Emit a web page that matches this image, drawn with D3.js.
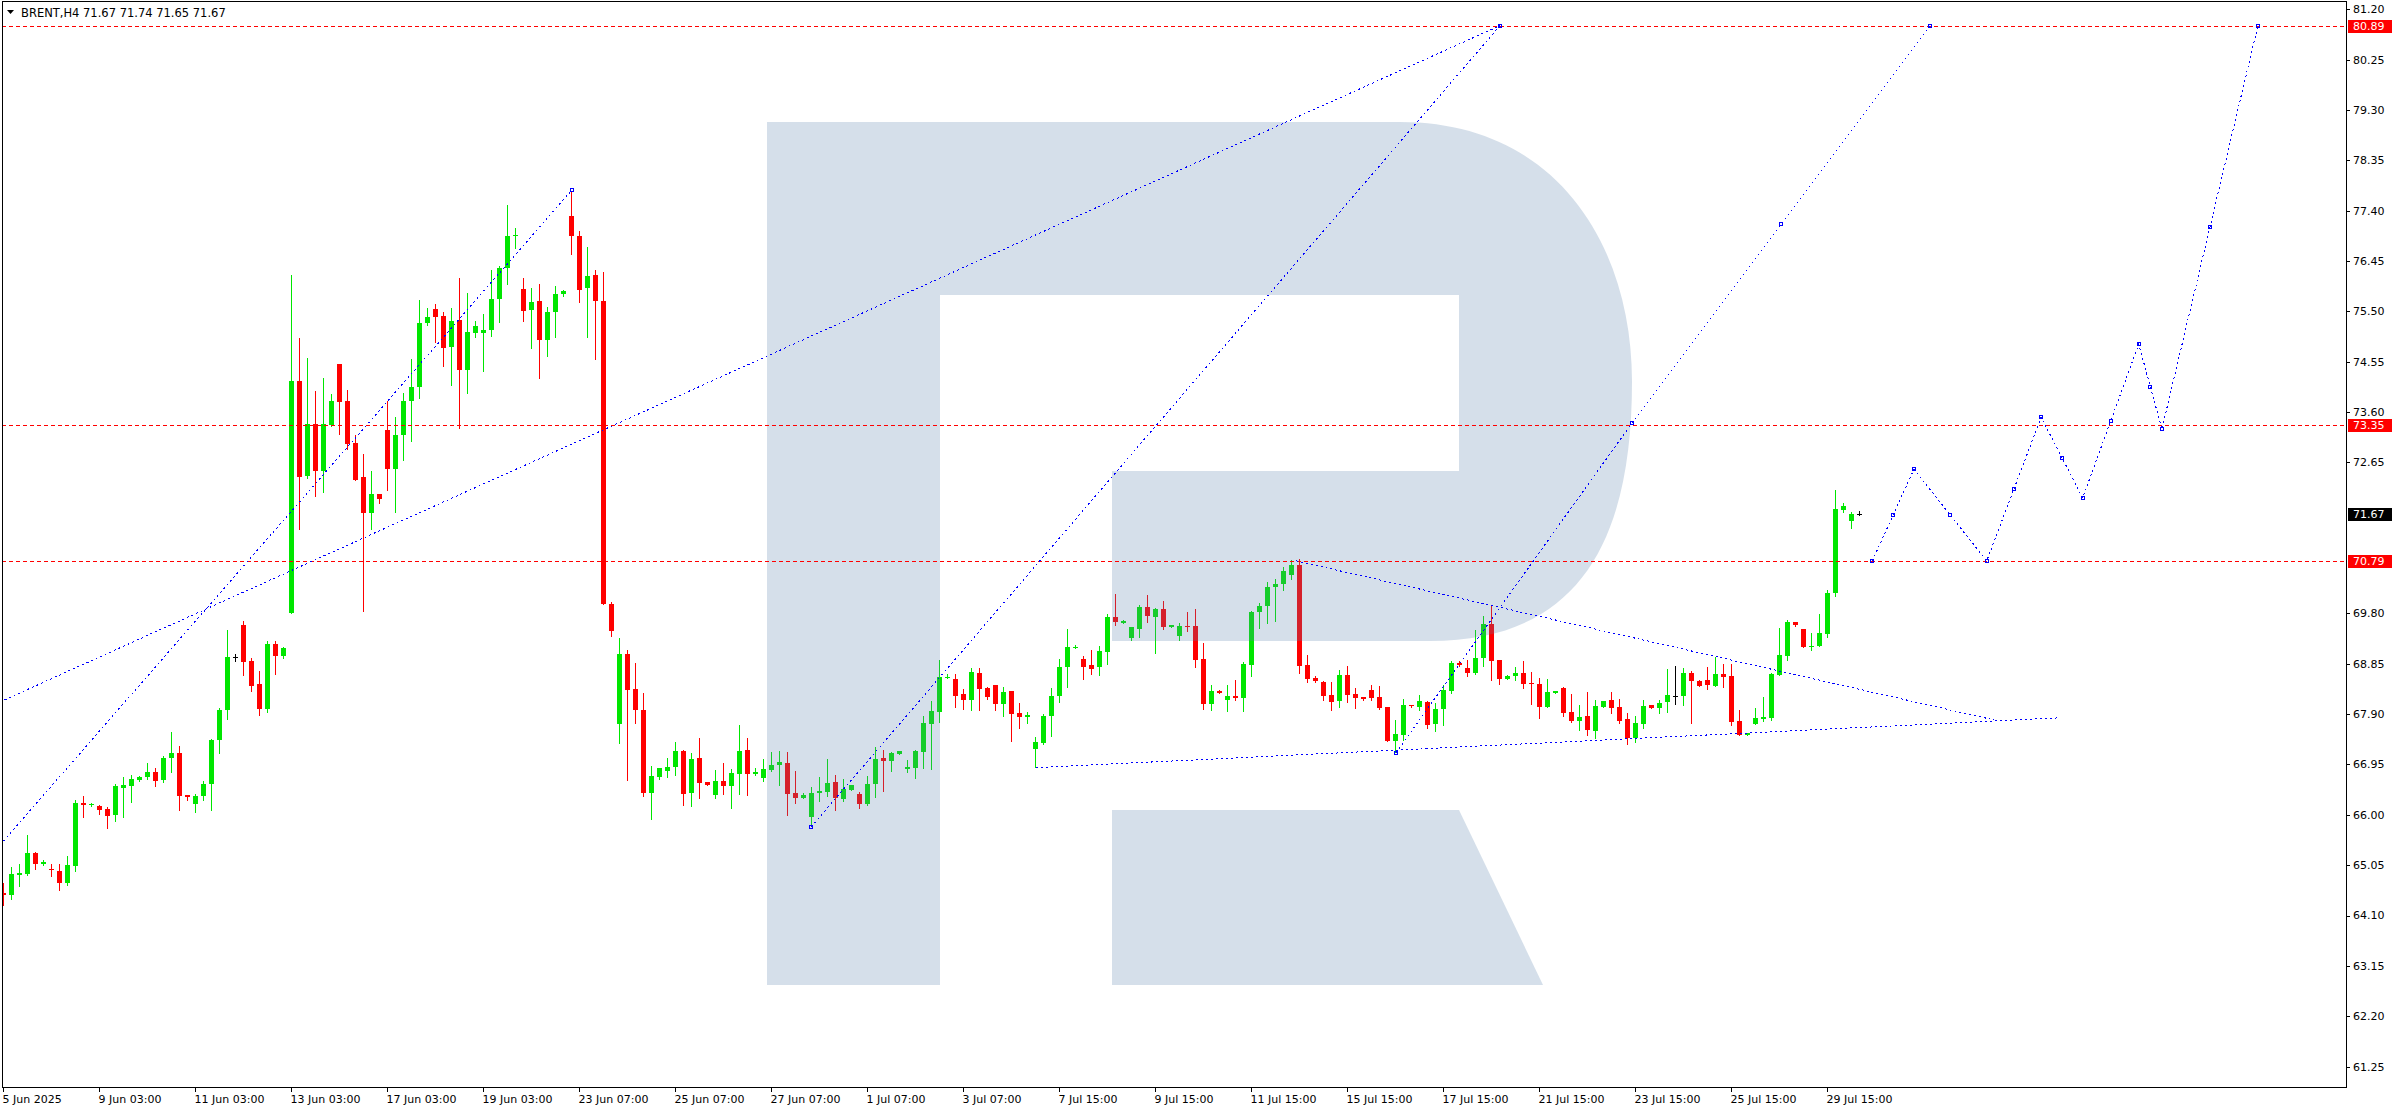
<!DOCTYPE html>
<html><head><meta charset="utf-8">
<script src="https://cdn.jsdelivr.net/npm/d3@7/dist/d3.min.js"></script>
<style>
body{margin:0;background:#fff}
svg{display:block}
text{font-family:"DejaVu Sans",sans-serif;font-size:11px}
</style>
</head><body>
<svg id="chart" width="2396" height="1110"></svg>
<script>
// ---- data (BRENT H4) ----
const symbol = "BRENT,H4";
const lastOHLC = [71.67, 71.74, 71.65, 71.67];
const opens = [64.52,64.48,64.86,64.89,65.27,65.08,64.98,64.94,64.72,65.04,66.23,66.19,66.17,66.11,66.00,66.51,66.55,66.66,66.71,66.80,66.66,67.07,67.17,66.37,66.21,66.36,66.59,67.42,67.97,68.97,69.58,68.91,68.46,67.99,69.22,68.99,69.81,74.18,72.39,73.38,72.49,73.35,74.51,73.81,73.02,72.37,71.70,72.05,73.26,72.53,73.17,73.80,74.07,75.27,75.54,75.41,74.82,75.34,74.39,75.10,75.10,75.14,75.74,76.32,76.92,75.92,75.52,75.70,74.96,75.48,75.82,77.30,76.93,75.94,76.19,75.70,69.98,67.71,69.04,68.37,67.98,66.42,66.72,66.83,66.90,67.20,66.41,67.07,66.62,66.37,66.64,66.54,66.77,67.22,66.77,66.69,66.85,66.94,66.98,66.41,66.32,65.96,66.41,66.43,66.62,66.30,66.47,66.39,66.20,66.58,67.07,67.01,67.15,66.86,66.88,67.18,67.71,67.94,68.59,68.56,68.28,68.17,68.68,68.39,68.45,68.10,68.34,67.93,67.85,67.25,67.36,67.87,68.25,68.78,69.15,68.94,68.83,68.78,69.08,69.73,69.61,69.34,69.51,69.92,69.74,69.88,69.55,69.38,69.56,69.56,68.94,68.10,68.34,68.17,68.25,68.21,68.83,69.83,69.94,70.30,70.35,70.52,70.72,68.83,68.59,68.50,68.26,68.15,68.64,68.28,68.22,68.35,68.22,68.03,67.39,67.51,68.07,68.03,68.13,67.71,67.99,68.34,68.86,68.77,68.68,68.96,69.60,68.92,68.56,68.61,68.68,68.48,68.47,68.03,68.30,68.39,67.94,67.77,67.86,67.58,68.03,68.17,68.03,67.81,67.44,67.71,68.07,68.01,68.13,68.25,68.24,68.68,68.53,68.54,68.43,68.66,68.62,67.77,67.51,67.71,67.81,67.83,68.64,68.99,69.64,69.50,69.17,69.19,69.42,70.18,71.75,71.54,71.67];
const highs = [64.71,65.02,65.08,65.62,65.29,65.15,65.07,65.07,65.22,66.27,66.36,66.23,66.19,66.14,66.59,66.71,66.76,66.74,66.98,66.89,67.11,67.57,67.30,66.37,66.39,66.64,67.43,68.01,69.48,69.03,69.66,68.95,68.72,69.27,69.27,69.17,76.18,75.00,74.62,74.00,74.24,73.94,74.51,74.02,73.17,72.80,72.49,72.06,73.80,73.51,73.96,74.60,75.72,75.57,75.63,75.49,75.57,76.12,75.85,75.32,75.45,76.28,76.36,77.50,77.07,76.12,75.94,76.01,75.58,75.98,75.90,77.76,77.01,76.71,76.27,76.24,70.01,69.34,69.11,68.86,68.30,66.92,66.88,67.07,67.37,67.22,67.17,67.45,66.62,66.85,66.97,66.86,67.69,67.45,66.88,67.05,67.19,67.20,67.18,66.83,66.41,66.52,66.71,67.05,66.75,66.68,66.56,66.43,66.73,67.28,67.22,67.19,67.21,67.03,67.22,67.86,68.15,68.92,68.66,68.66,68.37,68.77,68.77,68.41,68.45,68.41,68.34,68.11,67.94,67.47,67.91,68.39,68.94,69.50,69.20,69.00,69.11,69.18,69.79,70.17,69.68,69.55,69.96,70.15,69.90,70.03,69.58,69.62,69.83,69.88,69.24,68.44,68.35,68.45,68.54,68.88,69.85,69.99,70.40,70.45,70.68,70.80,70.82,69.01,68.61,68.52,68.50,68.73,68.81,68.39,68.23,68.45,68.43,68.03,67.79,68.18,68.08,68.26,68.15,68.11,68.45,68.90,68.90,68.92,69.49,69.75,69.95,68.92,68.64,68.79,68.90,68.69,68.58,68.56,68.33,68.41,68.28,68.07,68.32,68.17,68.15,68.32,68.18,67.92,67.86,68.17,68.07,68.17,68.75,68.81,68.77,68.71,68.54,68.79,68.98,68.85,68.85,67.98,67.55,68.02,68.22,68.67,69.52,69.67,69.64,69.50,69.43,69.78,70.24,72.13,71.88,71.71,71.74];
const lows = [64.29,64.41,64.66,64.86,64.98,65.06,64.84,64.59,64.68,64.94,65.95,66.17,66.02,65.76,65.88,65.96,66.25,66.64,66.67,66.55,66.61,66.81,66.09,66.28,66.06,66.27,66.09,67.17,67.80,68.91,68.64,68.33,67.88,67.94,68.66,68.96,69.80,71.40,72.36,72.02,72.10,73.33,73.18,72.90,72.31,69.85,71.40,71.89,72.12,71.71,72.69,73.05,73.86,75.24,74.93,74.47,74.11,73.30,73.95,75.02,74.37,75.03,75.29,76.02,76.69,75.31,74.80,74.24,74.66,75.01,75.79,76.59,75.67,75.01,74.60,69.97,69.37,67.36,66.66,67.74,66.36,65.93,66.68,66.72,66.75,66.18,66.17,66.32,66.57,66.31,66.39,66.13,66.39,66.37,66.75,66.64,66.83,66.56,65.99,66.22,66.32,65.78,66.26,66.36,66.09,66.26,66.47,66.13,66.18,66.34,66.45,66.83,67.15,66.81,66.69,66.88,66.87,67.75,68.58,68.04,68.00,67.98,67.98,68.19,67.98,67.87,67.40,67.64,67.74,66.90,67.34,67.48,68.13,68.42,69.15,68.57,68.66,68.64,68.85,69.59,69.61,69.30,69.36,69.64,69.06,69.51,69.55,69.30,69.47,68.79,68.00,67.98,68.30,67.96,68.17,67.95,68.61,69.53,69.62,69.65,70.25,70.45,68.67,68.51,68.51,68.17,67.97,68.03,68.13,68.01,68.17,68.17,68.00,67.40,67.19,67.41,68.04,67.98,67.64,67.58,67.69,68.30,68.81,68.62,68.66,68.81,68.54,68.47,68.56,68.54,68.39,68.09,67.83,68.03,68.30,67.86,67.75,67.60,67.50,67.44,68.03,67.92,67.73,67.34,67.38,67.64,68.01,67.92,67.94,68.09,68.07,67.74,68.43,68.37,68.43,68.41,67.69,67.51,67.51,67.71,67.77,67.78,68.64,68.92,69.57,69.17,69.11,69.19,69.36,70.12,71.72,71.41,71.65];
const closes = [64.48,64.89,64.90,65.27,65.08,65.11,64.96,64.72,65.05,66.23,66.18,66.20,66.09,65.97,66.54,66.56,66.67,66.71,66.80,66.64,67.08,67.17,66.36,66.33,66.36,66.59,67.42,67.97,68.97,68.97,68.89,68.43,67.99,69.22,68.99,69.15,74.19,72.38,73.38,72.49,73.38,73.80,73.78,72.99,72.32,71.70,72.05,71.96,72.53,73.16,73.81,74.08,75.28,75.39,75.40,74.80,75.32,74.39,75.11,75.23,75.15,75.74,76.32,76.92,76.94,75.50,75.67,74.96,75.49,75.82,75.88,76.93,75.91,76.17,75.69,69.98,69.46,69.04,68.36,67.97,66.42,66.73,66.88,66.90,67.20,66.39,67.05,66.60,66.57,66.64,66.54,66.79,67.20,66.77,66.81,66.86,66.94,67.00,66.39,66.32,66.37,66.41,66.45,66.60,66.32,66.49,66.56,66.20,66.58,67.05,67.01,67.17,67.20,66.90,67.20,67.73,67.96,68.60,68.60,68.24,68.17,68.69,68.38,68.23,68.10,68.32,67.91,67.85,67.89,67.38,67.87,68.24,68.79,69.17,69.17,68.79,68.76,69.09,69.73,69.63,69.66,69.54,69.92,69.76,69.88,69.55,69.58,69.57,69.55,68.93,68.10,68.33,68.30,68.25,68.21,68.85,69.83,69.94,70.30,70.35,70.60,70.72,68.81,68.57,68.53,68.25,68.13,68.64,68.26,68.21,68.19,68.21,68.02,67.40,67.52,68.07,68.05,68.15,67.69,67.99,68.35,68.87,68.83,68.68,68.96,69.60,68.91,68.57,68.62,68.68,68.47,68.47,68.03,68.32,68.33,67.92,67.77,67.84,67.60,68.05,68.15,68.02,67.77,67.44,67.73,68.05,68.01,68.11,68.26,68.25,68.68,68.53,68.43,68.45,68.66,68.60,67.75,67.51,67.54,67.83,67.85,68.66,69.02,69.64,69.58,69.17,69.19,69.43,70.18,71.77,71.83,71.68,71.67];

const priceTicks = [81.20,80.25,79.30,78.35,77.40,76.45,75.50,74.55,73.60,72.65,69.80,68.85,67.90,66.95,66.00,65.05,64.10,63.15,62.20,61.25];
const timeLabels = ["5 Jun 2025","9 Jun 03:00","11 Jun 03:00","13 Jun 03:00","17 Jun 03:00","19 Jun 03:00","23 Jun 07:00","25 Jun 07:00","27 Jun 07:00","1 Jul 07:00","3 Jul 07:00","7 Jul 15:00","9 Jul 15:00","11 Jul 15:00","15 Jul 15:00","17 Jul 15:00","21 Jul 15:00","23 Jul 15:00","25 Jul 15:00","29 Jul 15:00"];
const timeLabelBars = [0,12,24,36,48,60,72,84,96,108,120,132,144,156,168,180,192,204,216,228];
const levelPrices = [80.89, 73.35, 70.79];
const lastPrice = 71.67;

// analysis drawings: [barIndex, price] vertices
const trendLineA = [[-0.44,68.13],[187.06,80.89]];
const trendLineB = [[-0.44,65.43],[71.06,77.79]];
const trendLineC = [[100.94,65.77],[187.06,80.89]];
const trendLineD = [[174.06,67.17],[203.56,73.39],[240.8,80.89]];
const triangleTop = [[161.6,70.79],[248.8,67.79]];
const triangleBottom = [[129.06,66.89],[257.06,67.83]];
const forecastPath = [[233.6,70.79],[238.8,72.52],[247.9,70.79],[254.7,73.50],[259.9,71.98],[266.9,74.88],[269.8,73.28],[281.8,80.89]];

// ---- layout ----
const W = 2396, H = 1110;
const plot = {left: 2, top: 2, right: 2346, bottom: 1087};
const svg = d3.select("#chart");
svg.append("rect").attr("width", W).attr("height", H).attr("fill", "#fff");

const x = d3.scaleLinear().domain([0, 1]).range([3.5, 11.5]);
const y = d3.scaleLinear().domain([61.25, 81.20]).range([1066.55, 9.2]);
const cy = p => Math.round(y(p)) + 0.5;

svg.append("clipPath").attr("id", "clip").append("rect")
  .attr("x", plot.left).attr("y", plot.top)
  .attr("width", plot.right - plot.left).attr("height", plot.bottom - plot.top);

const g = svg.append("g").attr("clip-path", "url(#clip)");

// candles
const GREEN = "#00e600", RED = "#ff0000";
const idx = d3.range(opens.length);
const colorOf = i => closes[i] > opens[i] ? GREEN : (closes[i] < opens[i] ? RED : "#000");
const cg = g.append("g").attr("shape-rendering", "crispEdges");
cg.selectAll("line.wick").data(idx).join("line")
  .attr("x1", i => x(i)).attr("x2", i => x(i))
  .attr("y1", i => Math.round(y(highs[i]))).attr("y2", i => Math.round(y(lows[i])) + 1)
  .attr("stroke", colorOf).attr("stroke-width", 1);
cg.selectAll("rect.body").data(idx).join("rect")
  .attr("x", i => x(i) - 2.5)
  .attr("y", i => Math.round(y(Math.max(opens[i], closes[i]))))
  .attr("width", 5)
  .attr("height", i => Math.max(1, Math.round(y(Math.min(opens[i], closes[i]))) - Math.round(y(Math.max(opens[i], closes[i])))))
  .attr("fill", colorOf);

// watermark "R" (semi-transparent overlay)
const wm = g.append("g").attr("fill", "rgb(87,127,171)").attr("fill-opacity", 0.25);
wm.append("path").attr("d", "M767,122 H1400 C1560,122 1632,250 1632,381 C1632,540 1580,641 1430,641 H1112 V471 H1459 V295 H940 V985 H767 Z");
wm.append("path").attr("d", "M1112,810 H1459 L1543,985 H1112 Z");

// horizontal level lines
g.selectAll("line.level").data(levelPrices).join("line")
  .attr("x1", plot.left).attr("x2", plot.right)
  .attr("y1", cy).attr("y2", cy)
  .attr("stroke", "#ff0000").attr("stroke-width", 1).attr("stroke-dasharray", "4,3")
  .attr("shape-rendering", "crispEdges");

// blue drawings
const lineGen = d3.line().x(d => x(d[0])).y(d => y(d[1]));
const drawings = [trendLineA, trendLineB, trendLineC, trendLineD, triangleTop, triangleBottom, forecastPath];
g.selectAll("path.draw").data(drawings).join("path")
  .attr("d", lineGen).attr("fill", "none")
  .attr("stroke", "#0000ff").attr("stroke-width", 1).attr("stroke-dasharray", "2,3")
  .attr("shape-rendering", "crispEdges");

// vertex / midpoint markers
const markerPts = [];
for (let k = 0; k < forecastPath.length; k++) {
  markerPts.push(forecastPath[k]);
  if (k < forecastPath.length - 1) markerPts.push([(forecastPath[k][0] + forecastPath[k+1][0]) / 2, (forecastPath[k][1] + forecastPath[k+1][1]) / 2]);
}
[trendLineB[1], trendLineC[0], trendLineC[1], trendLineD[0], trendLineD[1], trendLineD[2],
 [(trendLineD[1][0] + trendLineD[2][0]) / 2, (trendLineD[1][1] + trendLineD[2][1]) / 2]].forEach(p => markerPts.push(p));
g.selectAll("rect.mk").data(markerPts).join("rect")
  .attr("x", d => Math.round(x(d[0])) - 1.5).attr("y", d => Math.round(y(d[1])) - 1.5)
  .attr("width", 3).attr("height", 3)
  .attr("fill", "none").attr("stroke", "#0000ff").attr("stroke-width", 1)
  .attr("shape-rendering", "crispEdges");

// frame
svg.append("rect").attr("x", plot.left + 0.5).attr("y", plot.top - 0.5)
  .attr("width", plot.right - plot.left).attr("height", plot.bottom - plot.top + 1)
  .attr("fill", "none").attr("stroke", "#000").attr("stroke-width", 1)
  .attr("shape-rendering", "crispEdges");

// price axis
const pa = svg.append("g");
pa.selectAll("line").data(priceTicks).join("line")
  .attr("x1", plot.right).attr("x2", plot.right + 4)
  .attr("y1", cy).attr("y2", cy).attr("stroke", "#000");
pa.selectAll("text").data(priceTicks).join("text")
  .attr("x", plot.right + 7).attr("y", p => y(p)).attr("dy", "0.36em")
  .attr("fill", "#000").text(p => p.toFixed(2));

// level boxes
const boxes = levelPrices.map(p => ({p, bg: "#ff0000"})).concat([{p: lastPrice, bg: "#000"}]);
const bx = svg.append("g").selectAll("g").data(boxes).join("g");
bx.append("rect").attr("x", plot.right + 2).attr("y", d => Math.round(y(d.p)) - 6)
  .attr("width", 44).attr("height", 13).attr("fill", d => d.bg);
bx.append("text").attr("x", plot.right + 7).attr("y", d => y(d.p)).attr("dy", "0.36em")
  .attr("fill", "#fff").text(d => d.p.toFixed(2));

// time axis
const ta = svg.append("g");
ta.selectAll("line").data(timeLabelBars).join("line")
  .attr("x1", i => x(i)).attr("x2", i => x(i))
  .attr("y1", plot.bottom).attr("y2", plot.bottom + 5).attr("stroke", "#000");
ta.selectAll("text").data(timeLabelBars).join("text")
  .attr("x", i => x(i) - 1).attr("y", plot.bottom + 16)
  .attr("fill", "#000").text((i, k) => timeLabels[k]);

// header
svg.append("path").attr("d", "M7,10 L14,10 L10.5,14 Z").attr("fill", "#000");
svg.append("text").attr("x", 21).attr("y", 17).attr("fill", "#000").style("font-size", "11.5px")
  .text(symbol + "  " + lastOHLC.map(v => v.toFixed(2)).join(" "));
</script>
</body></html>
